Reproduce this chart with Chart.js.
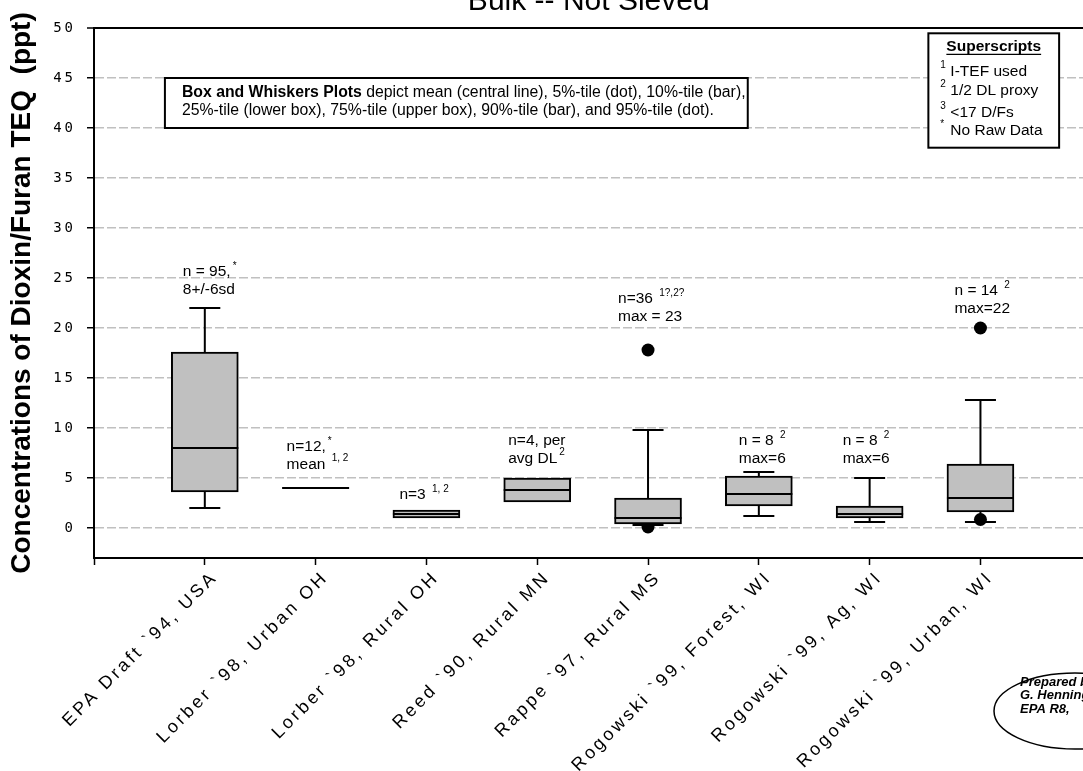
<!DOCTYPE html>
<html>
<head>
<meta charset="utf-8">
<title>Bulk -- Not Sieved</title>
<script src="https://cdn.jsdelivr.net/npm/chart.js@4.4.1/dist/chart.umd.min.js"></script>
<style>
  html, body { margin: 0; padding: 0; background: #fff; overflow: hidden; }
  /* the original is cropped on the right: draw a little wider and clip */
  #wrap { width: 1083px; height: 771px; overflow: hidden; }
</style>
</head>
<body>
<div id="wrap"><canvas id="boxChart" width="1090" height="771"></canvas></div>
<script>
// --- Data ---
const sites = [
  'EPA Draft `94, USA',
  'Lorber `98, Urban OH',
  'Lorber `98, Rural OH',
  'Reed `90, Rural MN',
  'Rappe `97, Rural MS',
  'Rogowski `99, Forest, WI',
  'Rogowski `99, Ag, WI',
  'Rogowski `99, Urban, WI'
];
const pct5  = [null, null, null, null, 0.1, null, null, 0.85];
const pct10 = [2.0, null, null, null, 0.3, 1.2, 0.6, 0.6];
const pct25 = [3.6, null, 1.0, 2.6, 0.4, 2.2, 1.0, 1.6];
const means = [8.0, 4.0, 1.4, 3.8, 1.0, 3.4, 1.4, 3.0];
const pct75 = [17.6, null, 1.8, 5.0, 3.0, 5.2, 2.2, 6.4];
const pct90 = [22.0, null, null, null, 9.8, 5.6, 5.0, 12.8];
const pct95 = [null, null, null, null, 17.8, null, null, 20.0];
const yTicks = [0, 5, 10, 15, 20, 25, 30, 35, 40, 45, 50];

// text above each box: [main, superscript] per line
const notes = [
  [['n = 95,', '*'], ['8+/-6sd', '']],
  [['n=12,', '*'], ['mean ', '1, 2']],
  [['n=3 ', '1, 2']],
  [['n=4, per', ''], ['avg DL', '2']],
  [['n=36 ', '1?,2?'], ['max = 23', '']],
  [['n = 8 ', '2'], ['max=6', '']],
  [['n = 8 ', '2'], ['max=6', '']],
  [['n = 14 ', '2'], ['max=22', '']]
];
const footnotes = [['1', 'I-TEF used'], ['2', '1/2 DL proxy'], ['3', '<17 D/Fs'], ['*', 'No Raw Data']];

// --- Layout bits (pixels / axis units) ---
const FONT = "'Liberation Sans', Arial, sans-serif";
const BOX_W = 67;
const CAP_W = 31;
const noteSpots = [
  { dx: -22, y: 25.6 }, { dx: -29, y: 8.1 }, { dx: -27, y: 3.3 }, { dx: -29, y: 8.7 },
  { dx: -30, y: 22.9 }, { dx: -20, y: 8.7 }, { dx: -27, y: 8.7 }, { dx: -26, y: 23.7 }
];

Chart.defaults.font.family = FONT;
Chart.defaults.color = '#000';

// draw "main" + raised small "sup" (or sup first when supFirst)
function supText(ctx, x, y, main, sup, size, supFirst) {
  ctx.textBaseline = 'middle';
  ctx.textAlign = 'left';
  if (supFirst) {
    ctx.font = Math.round(size * 0.66) + 'px ' + FONT;
    ctx.fillText(sup, x, y - size * 0.4);
    ctx.font = size + 'px ' + FONT;
    ctx.fillText(main, x + 10, y);
    return;
  }
  ctx.font = size + 'px ' + FONT;
  ctx.fillText(main, x, y);
  if (sup) {
    const w = ctx.measureText(main).width;
    ctx.font = Math.round(size * 0.66) + 'px ' + FONT;
    ctx.fillText(sup, x + w + 2, y - size * 0.4);
  }
}

const boxParts = {
  id: 'boxParts',
  beforeDatasetsDraw(chart) {
    // whiskers and caps (10th / 90th percentile)
    const { ctx, scales: { x, y } } = chart;
    ctx.save();
    ctx.strokeStyle = '#000';
    ctx.lineWidth = 2;
    sites.forEach((_, i) => {
      const cx = x.getPixelForValue(i + 1);
      [[pct75[i], pct90[i]], [pct25[i], pct10[i]]].forEach(([from, to]) => {
        if (from == null || to == null) return;
        const yt = y.getPixelForValue(to);
        ctx.beginPath();
        ctx.moveTo(cx, y.getPixelForValue(from));
        ctx.lineTo(cx, yt);
        ctx.moveTo(cx - CAP_W / 2, yt);
        ctx.lineTo(cx + CAP_W / 2, yt);
        ctx.stroke();
      });
    });
    ctx.restore();
  },
  afterDatasetsDraw(chart) {
    const { ctx, scales: { x, y } } = chart;
    ctx.save();
    ctx.fillStyle = '#000';
    ctx.strokeStyle = '#000';

    // mean lines
    ctx.lineWidth = 2;
    means.forEach((m, i) => {
      const cx = x.getPixelForValue(i + 1);
      const py = y.getPixelForValue(m);
      ctx.beginPath();
      ctx.moveTo(cx - BOX_W / 2, py);
      ctx.lineTo(cx + BOX_W / 2, py);
      ctx.stroke();
    });

    // n= notes
    notes.forEach((lines, i) => {
      const left = x.getPixelForValue(i + 1) + noteSpots[i].dx;
      const top = y.getPixelForValue(noteSpots[i].y);
      lines.forEach((ln, k) => supText(ctx, left, top + k * 17.5, ln[0], ln[1], 15.5, false));
    });

    // explanation box
    const bx1 = x.getPixelForValue(0.64), bx2 = x.getPixelForValue(5.9);
    const by1 = y.getPixelForValue(45), by2 = y.getPixelForValue(40);
    ctx.fillStyle = '#fff';
    ctx.fillRect(bx1, by1, bx2 - bx1, by2 - by1);
    ctx.lineWidth = 2;
    ctx.strokeRect(bx1, by1, bx2 - bx1, by2 - by1);
    ctx.fillStyle = '#000';
    ctx.textBaseline = 'middle';
    ctx.textAlign = 'left';
    ctx.font = 'bold 15.8px ' + FONT;
    const head = 'Box and Whiskers Plots';
    ctx.fillText(head, bx1 + 17, by1 + 15);
    const hw = ctx.measureText(head).width;
    ctx.font = '15.8px ' + FONT;
    ctx.fillText(' depict mean (central line), 5%-tile (dot), 10%-tile (bar),', bx1 + 17 + hw, by1 + 15);
    ctx.fillText('25%-tile (lower box), 75%-tile (upper box), 90%-tile (bar), and 95%-tile (dot).', bx1 + 17, by1 + 33);

    // superscripts legend
    const sx1 = x.getPixelForValue(7.53), sx2 = x.getPixelForValue(8.71);
    const sy1 = y.getPixelForValue(49.47), sy2 = y.getPixelForValue(38.03);
    ctx.fillStyle = '#fff';
    ctx.fillRect(sx1, sy1, sx2 - sx1, sy2 - sy1);
    ctx.strokeRect(sx1, sy1, sx2 - sx1, sy2 - sy1);
    ctx.fillStyle = '#000';
    ctx.font = 'bold 15.5px ' + FONT;
    ctx.textAlign = 'center';
    const mid = (sx1 + sx2) / 2;
    ctx.fillText('Superscripts', mid, sy1 + 13.5);
    const uw = ctx.measureText('Superscripts').width;
    ctx.lineWidth = 1.2;
    ctx.beginPath();
    ctx.moveTo(mid - uw / 2, sy1 + 21);
    ctx.lineTo(mid + uw / 2, sy1 + 21);
    ctx.stroke();
    const rowY = [38.5, 57.5, 79.5, 97];
    footnotes.forEach((f, k) => supText(ctx, sx1 + 12, sy1 + rowY[k], f[1], f[0], 15.5, true));

    // "Prepared by" ellipse (cut off at the right edge)
    ctx.lineWidth = 1.5;
    ctx.beginPath();
    ctx.ellipse(1075, 711, 81, 38, 0, 0, Math.PI * 2);
    ctx.stroke();
    ctx.font = 'italic bold 13px ' + FONT;
    ctx.textAlign = 'left';
    ['Prepared by', 'G. Henning', 'EPA R8,'].forEach((t, k) => ctx.fillText(t, 1020, 682 + k * 13.5));
    ctx.restore();

    // the tick labels (drawn in a later layer, z: 1) are widely spaced in the original
    ctx.letterSpacing = '3px';
  },
  afterDraw(chart) {
    chart.ctx.letterSpacing = '0px';
  }
};

const boxData = [];
const dotData = [];
sites.forEach((_, i) => {
  if (pct25[i] != null) boxData.push({ x: i + 1, y: [pct25[i], pct75[i]] });
  if (pct5[i] != null) dotData.push({ x: i + 1, y: pct5[i] });
  if (pct95[i] != null) dotData.push({ x: i + 1, y: pct95[i] });
});

const ctx = document.getElementById('boxChart').getContext('2d');
const boxChart = new Chart(ctx, {
  type: 'bar',
  data: {
    datasets: [
      {
        label: '25%-75%',
        data: boxData,
        backgroundColor: '#c0c0c0',
        borderColor: '#000',
        borderWidth: 2,
        borderSkipped: false,
        barThickness: BOX_W
      },
      {
        type: 'scatter',
        label: '5% / 95%',
        data: dotData,
        backgroundColor: '#000',
        borderWidth: 0,
        pointRadius: 6.5
      }
    ]
  },
  options: {
    responsive: false,
    animation: false,
    layout: { padding: 0 },
    plugins: {
      legend: { display: false },
      tooltip: { enabled: false },
      title: {
        display: true,
        fullSize: false,
        text: 'Bulk -- Not Sieved',
        font: { size: 30, weight: 'normal' },
        padding: { top: -16, bottom: 8 }
      }
    },
    scales: {
      x: {
        type: 'linear',
        offset: false,
        min: 0,
        max: 8.93,
        afterBuildTicks: s => { s.ticks = [0, 1, 2, 3, 4, 5, 6, 7, 8].map(v => ({ value: v })); },
        afterFit: s => { s.height = 213; s.paddingRight = 0; },
        ticks: {
          z: 1,
          autoSkip: false,
          minRotation: 45,
          maxRotation: 45,
          padding: 2,
          labelOffset: 10,
          font: { size: 18 },
          callback: v => (v >= 1 && v <= sites.length ? sites[Math.round(v) - 1] : '')
        },
        grid: { offset: false, drawOnChartArea: false, tickLength: 7, tickColor: '#000', tickWidth: 1.5 },
        border: { color: '#000', width: 2 }
      },
      y: {
        min: -3,
        max: 50,
        afterBuildTicks: s => { s.ticks = yTicks.map(v => ({ value: v })); },
        afterFit: s => { s.width = 94; },
        ticks: {
          z: 1,
          padding: 11,
          font: { family: "'DejaVu Sans Mono', monospace", size: 14 }
        },
        title: {
          display: true,
          text: 'Concentrations of Dioxin/Furan TEQ  (ppt)',
          font: { size: 28, weight: 'bold' },
          padding: { top: 5, bottom: 0 }
        },
        grid: {
          color: c => (c.tick && c.tick.value === 50 ? '#000' : '#c0c0c0'),
          lineWidth: c => (c.tick && c.tick.value === 50 ? 2 : 1.5),
          tickLength: 7,
          tickColor: '#000',
          tickWidth: 1.5
        },
        border: {
          color: '#000',
          width: 2,
          dash: c => (c.tick && c.tick.value === 50 ? [] : [9, 3])
        }
      }
    }
  },
  plugins: [boxParts]
});
</script>
</body>
</html>
